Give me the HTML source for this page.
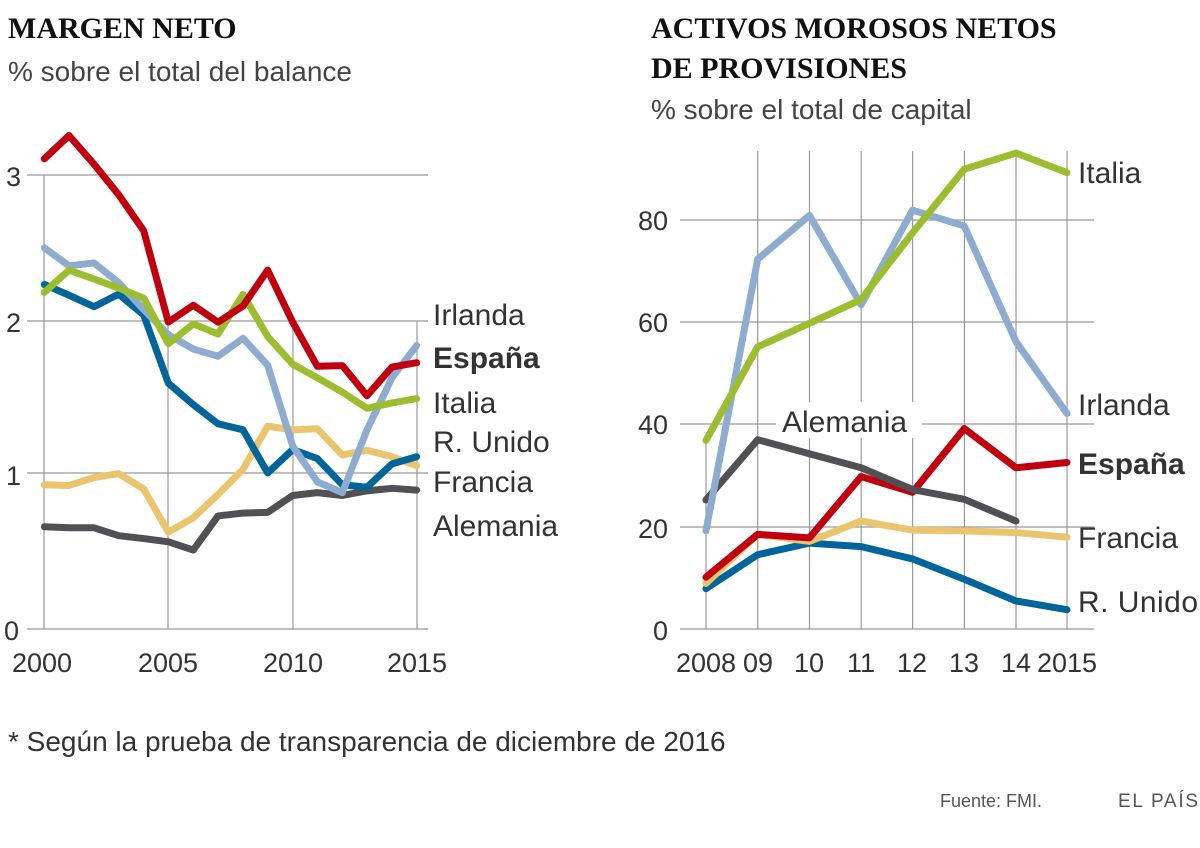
<!DOCTYPE html>
<html><head><meta charset="utf-8"><style>
html,body{margin:0;padding:0;background:#fff}
svg{display:block}
.t{font-family:"Liberation Serif",serif;font-weight:bold;font-size:30px;fill:#111}
.s{font-family:"Liberation Sans",sans-serif;font-size:28px;fill:#444}
.k{font-family:"Liberation Sans",sans-serif;font-size:27px;fill:#333}
.l{font-family:"Liberation Sans",sans-serif;font-size:30px;fill:#333}
.b{font-weight:bold}
.g{stroke:#999;stroke-width:1.2;fill:none}
.p{fill:none;stroke-width:7;stroke-linejoin:round;stroke-linecap:round}
</style></head><body>
<svg width="1200" height="848" viewBox="0 0 1200 848" xmlns="http://www.w3.org/2000/svg">
<text class="t" x="8" y="38">MARGEN NETO</text>
<text class="s" x="8" y="81">% sobre el total del balance</text>
<text class="t" x="651" y="38">ACTIVOS MOROSOS NETOS</text>
<text class="t" x="651" y="78">DE PROVISIONES</text>
<text class="s" x="651" y="119">% sobre el total de capital</text>

<g class="g">
<line x1="27" y1="175" x2="428" y2="175"/><line x1="27" y1="321" x2="428" y2="321"/>
<line x1="27" y1="473" x2="428" y2="473"/><line x1="27" y1="629" x2="428" y2="629"/>
<line x1="44" y1="175" x2="44" y2="629"/><line x1="168" y1="321" x2="168" y2="629"/>
<line x1="293" y1="321" x2="293" y2="629"/><line x1="417" y1="321" x2="417" y2="629"/>
</g>
<g class="k"><text x="6" y="186">3</text><text x="6" y="332">2</text><text x="6" y="485">1</text><text x="4" y="640">0</text></g>
<g class="k" text-anchor="middle"><text x="42" y="672">2000</text><text x="168" y="672">2005</text><text x="293" y="672">2010</text><text x="417" y="672">2015</text></g>
<g transform="translate(0,119.37) scale(0.33333,0.3589)">
<polyline class="p" vector-effect="non-scaling-stroke" stroke="#505055" points="133,1135 207,1138 282,1138 356,1160 431,1168 505,1177 580,1200 654,1105 729,1097 803,1095 878,1048 952,1040 1027,1048 1101,1035 1176,1028 1250,1033"/>
<polyline class="p" vector-effect="non-scaling-stroke" stroke="#ebc46e" points="133,1018 207,1020 282,998 356,987 431,1030 505,1150 580,1110 654,1045 729,975 803,855 878,865 952,862 1027,935 1101,922 1176,940 1250,965"/>
<polyline class="p" vector-effect="non-scaling-stroke" stroke="#00659a" points="133,460 207,490 282,522 356,487 431,545 505,735 580,795 654,848 729,865 803,985 878,920 952,945 1027,1018 1101,1025 1176,960 1250,940"/>
<polyline class="p" vector-effect="non-scaling-stroke" stroke="#8eaccf" points="133,358 207,408 282,400 356,455 431,530 505,600 580,640 654,660 729,610 803,685 878,910 952,1010 1027,1040 1101,865 1176,720 1250,630"/>
<polyline class="p" vector-effect="non-scaling-stroke" stroke="#9bbd2e" points="133,482 207,420 282,445 356,470 431,498 505,625 580,570 654,598 729,488 803,605 878,682 952,720 1027,760 1101,805 1176,790 1250,778"/>
<polyline class="p" vector-effect="non-scaling-stroke" stroke="#c0000f" points="133,110 207,45 282,125 356,210 431,310 505,565 580,518 654,565 729,520 803,420 878,565 952,688 1027,686 1101,770 1176,690 1250,678"/>
</g>
<g class="l"><text x="433" y="325">Irlanda</text><text x="433" y="368" class="l b">España</text><text x="433" y="413">Italia</text><text x="433" y="452">R. Unido</text><text x="433" y="492">Francia</text><text x="433" y="536">Alemania</text></g>

<g class="g">
<line x1="680" y1="220" x2="1094" y2="220"/><line x1="680" y1="322" x2="1094" y2="322"/>
<line x1="680" y1="424" x2="1094" y2="424"/><line x1="680" y1="527" x2="1094" y2="527"/>
<line x1="680" y1="629" x2="1094" y2="629"/>
<line x1="706" y1="437" x2="706" y2="629"/><line x1="757.7" y1="151" x2="757.7" y2="629"/>
<line x1="809.5" y1="151" x2="809.5" y2="629"/><line x1="861.2" y1="151" x2="861.2" y2="629"/>
<line x1="912.6" y1="151" x2="912.6" y2="629"/><line x1="964.4" y1="151" x2="964.4" y2="629"/>
<line x1="1016" y1="151" x2="1016" y2="629"/><line x1="1067" y1="151" x2="1067" y2="629"/>
</g>
<rect x="776" y="402" width="146" height="36" fill="#fff"/>
<g class="k" text-anchor="end"><text x="668" y="230">80</text><text x="668" y="332">60</text><text x="668" y="434">40</text><text x="668" y="538">20</text><text x="668" y="640">0</text></g>
<g class="k" text-anchor="middle"><text x="706" y="672">2008</text><text x="758" y="672">09</text><text x="809" y="672">10</text><text x="861" y="672">11</text><text x="912" y="672">12</text><text x="964" y="672">13</text><text x="1016" y="672">14</text><text x="1067" y="672">2015</text></g>
<g transform="translate(620.6,131.3) scale(0.3695,0.3505)">
<polyline class="p" vector-effect="non-scaling-stroke" stroke="#00659a" points="231,1305 371,1208 511,1175 651,1185 790,1220 930,1278 1070,1340 1208,1365"/>
<polyline class="p" vector-effect="non-scaling-stroke" stroke="#ebc46e" points="231,1290 371,1150 511,1170 651,1112 790,1138 930,1140 1070,1145 1208,1158"/>
<polyline class="p" vector-effect="non-scaling-stroke" stroke="#c0000f" points="231,1272 371,1150 511,1160 651,985 790,1030 930,848 1070,960 1208,945"/>
<polyline class="p" vector-effect="non-scaling-stroke" stroke="#505055" points="231,1052 371,880 511,920 651,960 790,1022 930,1050 1070,1112"/>
<polyline class="p" vector-effect="non-scaling-stroke" stroke="#8eaccf" points="231,1140 371,365 511,240 651,495 790,225 930,270 1070,600 1208,805"/>
<polyline class="p" vector-effect="non-scaling-stroke" stroke="#9bbd2e" points="231,882 371,615 511,548 651,480 790,290 930,108 1070,62 1208,118"/>
</g>
<g class="l"><text x="1078" y="183">Italia</text><text x="1078" y="415">Irlanda</text><text x="1078" y="474" class="l b">España</text><text x="1078" y="548">Francia</text><text x="1078" y="612" textLength="120">R. Unido</text><text x="782" y="432">Alemania</text></g>

<text class="s" x="8" y="751" style="fill:#333">* Según la prueba de transparencia de diciembre de 2016</text>
<text class="s" x="940" y="807" style="font-size:18px;fill:#555">Fuente: FMI.</text>
<text class="s" x="1118" y="807" style="font-size:19px;fill:#555" textLength="80">EL PAÍS</text>
</svg>
</body></html>
